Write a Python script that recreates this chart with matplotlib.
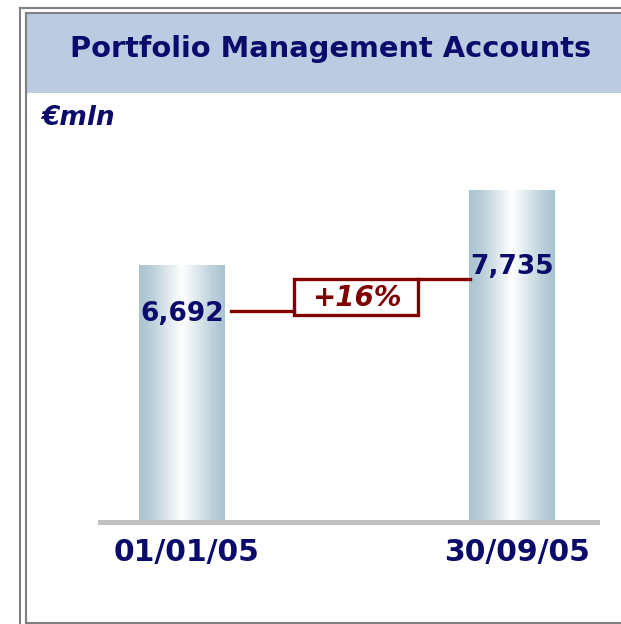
import numpy as np
import matplotlib
matplotlib.use("Agg")
import matplotlib.pyplot as plt
from matplotlib.colors import LinearSegmentedColormap
from matplotlib.patches import Rectangle
from matplotlib.lines import Line2D

# data
dates = ["01/01/05", "30/09/05"]
values = [6692, 7735]
title = "Portfolio Management Accounts"
unit = "€mln"

navy = "#0B0B6B"
darkred = "#800000"
W, H = 621, 624
y0_axis = 3118

fig = plt.figure(figsize=(W / 100, H / 100), dpi=100)


def px(x, y):
    # pixel position (from top left) -> figure fraction
    return x / W, 1 - y / H


# frame and title band
fig.patches.append(Rectangle(px(26, 93), (W - 26) / W, 80 / H, transform=fig.transFigure,
                             facecolor="#BBCCE2", edgecolor="none", zorder=0))
for (x0, y0), (x1, y1) in [((19.5, 7.5), (19.5, 630)), ((19.5, 7.5), (630, 7.5)),
                           ((25.5, 12.5), (25.5, 622.5)), ((25.5, 12.5), (630, 12.5)),
                           ((25.5, 622.5), (630, 622.5))]:
    a, b = px(x0, y0)
    c, d = px(x1, y1)
    fig.lines.append(Line2D([a, c], [b, d], transform=fig.transFigure,
                            color="#808080", lw=1.5))

fig.text(*px(331, 49), title, ha="center", va="center", fontsize=20.8,
         fontweight="bold", color=navy)
fig.text(*px(41, 118), unit, ha="left", va="center", fontsize=19,
         fontweight="bold", fontstyle="italic", color=navy)

# bars
l, b = px(100, 522)
ax = fig.add_axes([l, b, 497 / W, 372 / H])
ax.axis("off")

x = np.arange(len(values))
bars = ax.bar(x, values, width=0.26, color="none", edgecolor="none")

grad = LinearSegmentedColormap.from_list(
    "bar", [(0, "#A9C3D0"), (0.15, "#B9CFD9"), (0.5, "#FFFFFF"), (0.85, "#BDD1DB"), (1, "#A9C3D0")])
g = np.linspace(0, 1, 256).reshape(1, -1)
for bar in bars:
    x0, w, h = bar.get_x(), bar.get_width(), bar.get_height()
    im = ax.imshow(g, cmap=grad, aspect="auto", extent=(x0, x0 + w, y0_axis, h),
                   zorder=2, interpolation="bicubic")
    im.set_clip_path(bar)
ax.set_xlim(-0.2485, 1.2576)
ax.set_ylim(y0_axis, 8291)

# base line
ax.axhline(y0_axis, color="#C0C0C0", lw=3.6, zorder=3, clip_on=False)

# value labels
label_drop = [-49, -77]
for i, v in enumerate(values):
    ax.annotate(f"{v:,}", (x[i], v), xytext=(0, label_drop[i]),
                textcoords="offset pixels", ha="center", va="center",
                fontsize=19, fontweight="bold", color=navy, zorder=4)

# category labels
for i, d in enumerate(dates):
    ax.annotate(d, (x[i], y0_axis), xytext=(5, -31), textcoords="offset pixels",
                ha="center", va="center", fontsize=21.5, fontweight="bold",
                color=navy, annotation_clip=False)

# growth connector
growth = round((values[1] / values[0] - 1) * 100)
for (x0, y0), (x1, y1) in [((231, 311), (294, 311)), ((418, 279), (470, 279))]:
    a, b2 = px(x0, y0)
    c, d = px(x1, y1)
    fig.lines.append(Line2D([a, c], [b2, d], transform=fig.transFigure,
                            color=darkred, lw=2.4))
fig.patches.append(Rectangle(px(294, 315), 124 / W, 36 / H, transform=fig.transFigure,
                             facecolor="white", edgecolor=darkred, lw=2.4))
fig.text(*px(357, 298), f"+{growth}%", ha="center", va="center", fontsize=20,
         fontweight="bold", fontstyle="italic", color=darkred)

fig.savefig("out.png", dpi=100)
